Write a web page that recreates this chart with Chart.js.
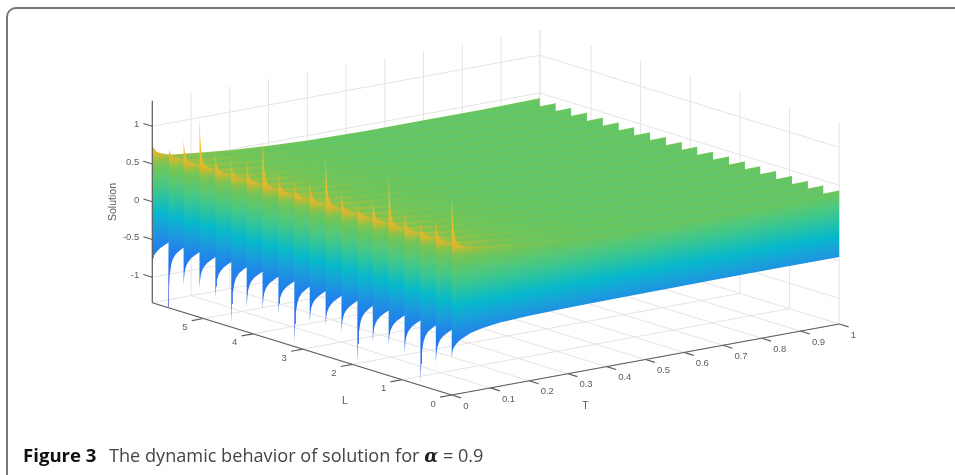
<!DOCTYPE html>
<html><head><meta charset="utf-8">
<script src="https://cdn.jsdelivr.net/npm/chart.js@4"></script>
<style>
html,body{margin:0;padding:0;background:#fff;width:955px;height:475px;overflow:hidden}
#frame{position:absolute;left:6px;top:7px;width:970px;height:490px;border:2px solid #777;border-radius:10px;box-sizing:border-box}
#wrap{position:absolute;left:0;top:0;width:955px;height:475px}
canvas{filter:blur(0.45px)}
#cap{position:absolute;left:23px;top:442px;font:18.15px "Open Sans",sans-serif;color:#444;white-space:pre}
#cap b{color:#111;font-weight:700;font-size:18.6px;margin-right:3px}
#cap i{font-family:"DejaVu Serif",serif;font-weight:700;color:#222}
</style></head><body>
<div id="frame"></div>
<div id="wrap"><canvas id="c" width="955" height="475"></canvas></div>
<div id="cap"><b>Figure 3</b>  The dynamic behavior of solution for <i>α</i> = 0.9</div>
<script>
// ---- values ----
const tTicks=[0,.1,.2,.3,.4,.5,.6,.7,.8,.9,1];
const tLabels=['0','0.1','0.2','0.3','0.4','0.5','0.6','0.7','0.8','0.9','1'];
const lTicks=[0,1,2,3,4,5];
const zTicks=[-1,-.5,0,.5,1];
const zLabels=['-1','-0.5','0','0.5','1'];
const curtainL=[6.03,5.71,5.40,5.08,4.76,4.44,4.13,3.81,3.49,3.17,2.86,2.54,2.22,1.90,1.59,1.27,.95,.63,.32,0];
const spikeUp=[.81,.82,.94,1.30,.90,.84,.93,1.30,.91,.83,.91,1.30,.89,.83,.91,1.30,.89,.81,.91,1.30];
const spikeDown=[-.82,-1.33,-.97,-.95,-1.01,-1.28,-1.01,-.97,-.96,-1.29,-.95,-.93,-.95,-1.30,-.95,-.93,-.97,-1.31,-.97,-.85];
const sampleT=[0,.002,.004,.008,.012,.02,.033,.05,.08,.125,.2,.3,.4,.55,.7,.85,1];
const upperBase=[.81,.75,.71,.67,.65,.625,.60,.58,.56,.535,.495,.46,.435,.42,.42,.42,.43];
const lowerBase=[-.82,-.75,-.72,-.69,-.67,-.635,-.60,-.56,-.525,-.495,-.475,-.465,-.46,-.455,-.45,-.45,-.45];
const spikeDecay=[1,.62,.36,.16,.07,.02,0,0,0,0,0,0,0,0,0,0,0];
const zStops=[-1.34,-1.07,-.77,-.52,-.35,-.17,-.02,.13,.28,.42,.49,.55,.61,.69,.83,1.33];
const zColors=['#6058d4','#3a62ea','#2474f0','#1f8ae6','#1aa0da','#06b8cc','#1fc0ae','#3cc790','#56c776','#6cc55c','#7cc454','#a0c040','#d4b830','#e0b82c','#eabc24','#f4d040'];
const gridColor='#e4e4e6', axisColor='#5e5e5e', textColor='#5c5c5c';
// ---- orthographic view of the box ----
const LMAX=6.03, ZMIN=-1.338, ZMAX=1.338;
const ORIGIN=[451.7,395], TDIR=[387.5,-71], LDIR=[-49.65,-15.3], ZSTEP=-75.5;
function proj(t,l,z){return {x:ORIGIN[0]+TDIR[0]*t+LDIR[0]*l,y:ORIGIN[1]+TDIR[1]*t+LDIR[1]*l+ZSTEP*(z-ZMIN)};}
const datasets=[];
function seg(a,b,color,w,order){datasets.push({type:'line',data:[a,b],borderColor:color,borderWidth:w,pointRadius:0,fill:false,tension:0,order});}
// axes on top (lowest order is drawn last)
seg(proj(0,LMAX,ZMIN),proj(0,LMAX,ZMAX),axisColor,1.2,0);
seg(proj(0,0,ZMIN),proj(0,LMAX,ZMIN),axisColor,1.2,0);
seg(proj(0,0,ZMIN),proj(1,0,ZMIN),axisColor,1.2,0);
tTicks.forEach(t=>seg(proj(t,0,ZMIN),proj(t,-.19,ZMIN),axisColor,1.2,0));
lTicks.forEach(l=>seg(proj(0,l,ZMIN),proj(-.03,l,ZMIN),axisColor,1.2,0));
zTicks.forEach(z=>seg(proj(0,LMAX,z),proj(0,LMAX+.18,z),axisColor,1.2,0));
// surface: one curtain per L, front ones drawn last
curtainL.forEach((L,i)=>{
  const low=sampleT.map((t,j)=>proj(t,L,lowerBase[j]+(spikeDown[i]-lowerBase[0])*spikeDecay[j]));
  const up=sampleT.map((t,j)=>proj(t,L,upperBase[j]+(spikeUp[i]-upperBase[0])*spikeDecay[j]));
  const poly=low.concat(up.reverse());
  poly.push(poly[0]);
  datasets.push({type:'line',data:poly,borderWidth:0,borderColor:'rgba(0,0,0,0)',pointRadius:0,tension:0,fill:'shape',
    order:1+curtainL.length-i,
    backgroundColor:c=>curtainFill(c.chart,L)});
});
// back walls and floor grid
const G=100;
tTicks.forEach(t=>{
  seg(proj(t,0,ZMIN),proj(t,LMAX,ZMIN),gridColor,1,G);
  seg(proj(t,LMAX,ZMIN),proj(t,LMAX,ZMAX),gridColor,1,G);
});
lTicks.concat([LMAX]).forEach(l=>{
  seg(proj(0,l,ZMIN),proj(1,l,ZMIN),gridColor,1,G);
  seg(proj(1,l,ZMIN),proj(1,l,ZMAX),gridColor,1,G);
});
zTicks.forEach(z=>{
  seg(proj(0,LMAX,z),proj(1,LMAX,z),gridColor,1,G);
  seg(proj(1,LMAX,z),proj(1,0,z),gridColor,1,G);
});
function curtainFill(chart,L){
  const sx=chart.scales.x, sy=chart.scales.y;
  if(!sx||!sy) return '#6cc55c';
  const a=proj(0,L,ZMIN), b=proj(0,L,ZMAX);
  const ax=sx.getPixelForValue(a.x), ay=sy.getPixelForValue(a.y);
  const bx=sx.getPixelForValue(b.x), by=sy.getPixelForValue(b.y);
  if(![ax,ay,bx,by].every(Number.isFinite)) return '#6cc55c';
  // gradient runs across the T direction so bands follow constant height
  const tx=TDIR[0], ty=TDIR[1], len=Math.hypot(tx,ty), nx=-ty/len, ny=tx/len;
  const d=(bx-ax)*nx+(by-ay)*ny;
  const g=chart.ctx.createLinearGradient(ax,ay,ax+nx*d,ay+ny*d);
  zStops.forEach((z,k)=>g.addColorStop(Math.min(1,Math.max(0,(z-ZMIN)/(ZMAX-ZMIN))),zColors[k]));
  return g;
}
const labelPlugin={id:'boxLabels',afterDatasetsDraw(chart){
  const {ctx,scales:{x:sx,y:sy}}=chart;
  const put=(s,p,dx,dy,al)=>{ctx.textAlign=al||'center';ctx.fillText(s,sx.getPixelForValue(p.x)+dx,sy.getPixelForValue(p.y)+dy);};
  ctx.save();ctx.fillStyle=textColor;ctx.font='9.5px "Liberation Sans",Arial,sans-serif';ctx.textBaseline='middle';
  tTicks.forEach((t,k)=>put(tLabels[k],proj(t,0,ZMIN),11.5,11,'left'));
  lTicks.forEach(l=>put(String(l),proj(0,l,ZMIN),-18.5,9));
  zTicks.forEach((z,k)=>put(zLabels[k],proj(0,LMAX,z),-13,-1.7,'right'));
  ctx.font='10.5px "Liberation Sans",Arial,sans-serif';
  put('T',proj(.34,0,ZMIN),2,35);
  put('L',proj(0,2.15,ZMIN),0,39);
  ctx.save();ctx.translate(113,202);ctx.rotate(-Math.PI/2);ctx.textAlign='center';ctx.fillText('Solution',0,0);ctx.restore();
  ctx.restore();
}};
new Chart(document.getElementById('c'),{
  data:{datasets},
  plugins:[labelPlugin],
  options:{responsive:false,animation:false,parsing:false,normalized:true,
    layout:{padding:0},
    plugins:{legend:{display:false},tooltip:{enabled:false},title:{display:false}},
    events:[],
    scales:{x:{type:'linear',min:0,max:955,display:false},y:{type:'linear',min:0,max:475,reverse:true,display:false}}}
});
</script>
</body></html>
